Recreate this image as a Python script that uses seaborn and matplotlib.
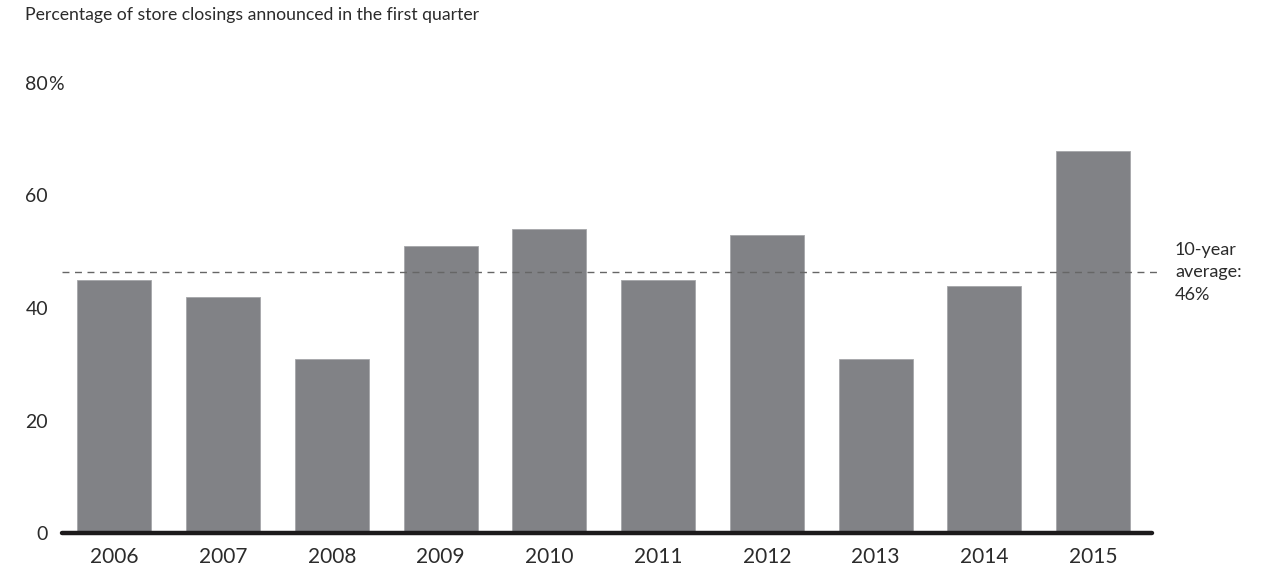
import matplotlib
matplotlib.use("Agg")
import matplotlib.pyplot as plt
import matplotlib.transforms as mtransforms
import seaborn as sns
import pandas as pd
import numpy as np

years = ["2006", "2007", "2008", "2009", "2010", "2011", "2012", "2013", "2014", "2015"]
pct = [45, 42, 31, 51, 54, 45, 53, 31, 44, 68]
yticks = [0, 20, 40, 60, 80]
avg_label = ["10-year", "average:", "46%"]
title = "Percentage of store closings announced in the first quarter"

sns.set_theme(style="white")
plt.rcParams["font.family"] = ["Lato", "DejaVu Sans"]

df = pd.DataFrame({"year": years, "pct": pct})

W, H, DPI = 1266, 567, 100
fig = plt.figure(figsize=(W / DPI, H / DPI), dpi=DPI)
ax = fig.add_axes([62 / W, 1 - 533 / H, (1152 - 62) / W, (533 - 83) / H])

sns.barplot(data=df, x="year", y="pct", color="#818286", saturation=1,
            width=0.68, edgecolor="#a5a6a9", linewidth=0.6, ax=ax)

ax.set_xlim(-0.48, 9.54)
ax.set_ylim(0, 80)
for s in ax.spines.values():
    s.set_visible(False)
ax.set_xlabel("")
ax.set_ylabel("")

text_color = "#2b2b2b"
ax.set_yticks(yticks)
ax.set_yticklabels([str(t) for t in yticks])
ax.tick_params(axis="y", length=0, pad=10, labelsize=14, labelcolor=text_color)
ax.tick_params(axis="x", length=0, pad=10, labelsize=15, labelcolor=text_color)

# percent sign after top tick label
trans = mtransforms.blended_transform_factory(fig.transFigure, ax.transData)
ax.text(48.5 / W, 80, "%", transform=trans, ha="left", va="center_baseline",
        fontsize=14, color=text_color)

# baseline
ax.axhline(0, color="#1c1a1b", lw=3.2, zorder=5, clip_on=False)

# average line
avg = float(np.mean(pct))
ax.plot([-0.48, 9.63], [avg, avg], ls=(0, (5, 4)), color="#666666", lw=1.0,
        clip_on=False, zorder=4)
ax.text(1175 / W, avg, "\n".join(avg_label), transform=trans, ha="left", va="center",
        fontsize=13, color=text_color, linespacing=1.5)

fig.text(25 / W, 1 - 15 / H, title, ha="left", va="center", fontsize=12.7, color=text_color)

fig.savefig("out.png", dpi=DPI)
